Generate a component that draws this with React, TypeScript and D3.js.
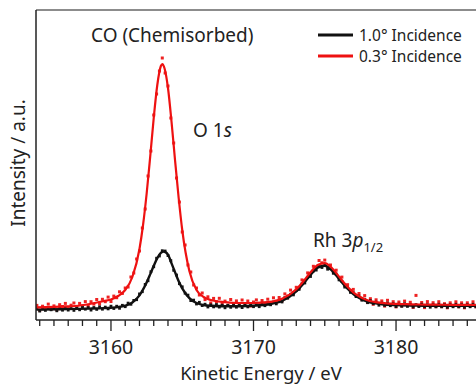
import { useMemo } from 'react'
import * as d3 from 'd3'

// measured spectra: one point every 0.2 eV starting at scanStart
const scanStart = 3154.8
const scanStep = 0.2

const redCounts = [
  14.6, 9.7, 13.8, 11.9, 15.9, 11.0, 14.1, 10.2, 15.3, 13.5,
  16.6, 11.7, 14.8, 17.0, 12.2, 16.6, 14.0, 18.4, 13.8, 18.3,
  15.9, 20.5, 16.1, 20.7, 18.3, 22.9, 18.5, 23.9, 22.3, 28.2,
  26.6, 32, 33, 43, 47, 61, 69, 92, 111, 144,
  169, 205, 226, 249, 262, 247, 234, 202, 177, 142,
  118, 88, 75, 55, 48, 35, 32, 25, 27, 20.4,
  23.2, 17.0, 21.6, 18.2, 21.7, 16.3, 18.9, 14.7, 20.5, 16.3,
  19.1, 15.0, 20.0, 16.0, 19.0, 14.0, 18.0, 20.1, 15.3, 19.5,
  16.6, 20.8, 16.5, 22.2, 18.8, 22.5, 19.2, 26.1, 24.0, 29.9,
  26.8, 32.7, 31.9, 40.1, 39.5, 47.1, 45.7, 53.7, 52.6, 59.5,
  57.2, 59.9, 52.9, 55.0, 48.3, 49.8, 42.4, 42.9, 34.4, 35.3,
  29.4, 30.6, 24.0, 26.5, 20.9, 24.4, 17.8, 21.3, 15.7, 20.2,
  16.6, 19.1, 13.9, 19.7, 15.5, 18.3, 13.1, 18.0, 14.0, 18.9,
  14.8, 17.7, 12.6, 24.6, 14.5, 17.5, 12.4, 18.4, 14.4, 17.3,
  13.3, 18.3, 13.3, 16.3, 12.2, 17.2, 14.2, 18.2, 13.2, 17.2,
  12.2, 17.2, 14.2, 18.2, 13.2
]

const blackCounts = [
  11.4, 8.9, 11.0, 9.6, 12.1, 10.2, 11.7, 9.2, 11.8, 9.8,
  12.4, 9.9, 11.5, 9.6, 12.1, 10.2, 12.7, 10.8, 12.4, 9.9,
  12.5, 10.6, 13.2, 10.8, 12.9, 11.1, 13.8, 11.5, 13.8, 11.7,
  14.7, 13.3, 16.9, 15.7, 19.6, 20.3, 26.1, 28.3, 35.6, 39.2,
  48.3, 53.2, 61.8, 64.0, 69.3, 69.0, 64.4, 59.4, 49.7, 45.0,
  36.3, 33.2, 26.8, 24.9, 19.4, 19.9, 16.0, 17.7, 14.4, 15.8,
  13.0, 15.2, 13.1, 15.5, 12.9, 14.8, 12.2, 14.7, 12.7, 15.3,
  12.8, 14.8, 12.4, 15.0, 13.1, 15.7, 13.3, 15.5, 13.3, 16.0,
  14.3, 17.0, 15.2, 17.9, 16.1, 19.3, 18.0, 22.4, 21.8, 25.7,
  25.1, 29.5, 30.6, 36.2, 37.0, 42.5, 43.5, 49.0, 49.9, 54.3,
  52.5, 55.2, 50.8, 51.4, 46.7, 45.9, 40.1, 38.7, 32.9, 32.3,
  27.6, 27.4, 23.4, 23.9, 19.8, 20.8, 17.3, 19.3, 16.3, 17.8,
  14.8, 16.8, 14.6, 16.9, 14.3, 16.1, 13.4, 15.8, 13.7, 16.2,
  13.6, 15.5, 13.0, 15.4, 13.4, 15.8, 13.3, 15.3, 12.8, 15.2,
  13.2, 15.7, 13.2, 15.2, 12.7, 15.2, 13.2, 15.7, 13.2, 15.2,
  12.7, 15.2, 13.2, 15.7, 13.2
]

// fitted curves
const redFitE = [
  3154.75, 3155.5, 3156.5, 3157.5, 3158.5, 3159.5, 3160, 3160.5, 3161, 3161.5,
  3162, 3162.25, 3162.5, 3162.75, 3163, 3163.25, 3163.5, 3163.61, 3163.75, 3164,
  3164.25, 3164.5, 3164.75, 3165, 3165.5, 3166, 3166.5, 3167, 3168, 3169,
  3170, 3171, 3172, 3173, 3173.5, 3174, 3174.5, 3175, 3175.5, 3176,
  3176.5, 3177, 3178, 3179, 3180, 3181, 3182, 3183, 3184, 3185, 3185.6
]
const redFitI = [
  12.6, 12.9, 13.4, 14.0, 16.0, 19.0, 20.5, 24, 30, 43,
  71, 95, 126, 163, 202, 235, 254, 256, 252, 232,
  198, 159, 122, 90, 49, 30, 23, 20, 17.9, 17,
  17, 17.8, 21.2, 30.7, 38.7, 47.7, 55.1, 56.9, 52, 43.4,
  34.7, 27.6, 19.8, 17.1, 16.1, 15.7, 15.4, 15.3, 15.2, 15.2, 15.2
]

const blackFitE = [
  3154.75, 3156.5, 3158.5, 3159.5, 3160, 3160.5, 3161, 3161.5, 3162, 3162.5,
  3162.75, 3163, 3163.25, 3163.5, 3163.7, 3164, 3164.25, 3164.5, 3164.75, 3165,
  3165.5, 3166, 3166.5, 3167, 3168, 3169, 3170, 3171, 3172, 3173,
  3173.5, 3174, 3174.5, 3175, 3175.5, 3176, 3176.5, 3177, 3178, 3179,
  3180, 3181, 3182, 3183, 3184, 3185, 3185.6
]
const blackFitI = [
  10.4, 10.8, 11.4, 11.9, 12.3, 12.9, 14.3, 17.5, 24.6, 37.4,
  45.6, 54.2, 61.8, 67.1, 68.5, 65.4, 56.6, 47.6, 38.7, 31.7,
  21.9, 17, 15, 14.2, 13.7, 13.8, 14.3, 15.5, 19, 28.5,
  36.3, 45, 52.4, 54.2, 49.4, 41.1, 32.7, 25.9, 18.3, 15.8,
  14.9, 14.5, 14.3, 14.2, 14.2, 14.2, 14.2
]

const majorTicks = [3160, 3170, 3180]
const legendItems = [
  { label: '1.0° Incidence', color: '#111111' },
  { label: '0.3° Incidence', color: '#ee1111' }
]

const W = 476
const H = 385
const font = '"Noto Sans", "Open Sans", sans-serif'

export default function App() {
  const left = 36
  const top = 10
  const bottom = 320

  const x = d3.scaleLinear().domain([3154.74, 3185.61]).range([left, W])
  const y = d3.scaleLinear().domain([0, 310]).range([bottom, top])

  const scanE = (i: number) => scanStart + i * scanStep

  const line = d3.line<[number, number]>()
    .x(d => x(d[0]))
    .y(d => y(d[1]))
    .curve(d3.curveMonotoneX)

  const redFit = line(redFitE.map((e, i) => [e, redFitI[i]])) || ''
  const blackFit = line(blackFitE.map((e, i) => [e, blackFitI[i]])) || ''

  const minorTicks = useMemo(() => d3.range(3155, 3186, 1), [])

  return (
    <svg width={W} height={H} style={{ position: 'absolute', left: 0, top: 0, background: '#fff' }}
      fontFamily={font}>
      <defs>
        <clipPath id="plot">
          <rect x={left} y={top} width={W - left} height={bottom - top} />
        </clipPath>
      </defs>

      <g clipPath="url(#plot)">
        {redCounts.map((v, i) => (
          <rect key={'r' + i} x={x(scanE(i)) - 1.5} y={y(v) - 1.5} width={3} height={3} fill="#ee2222" />
        ))}
        {blackCounts.map((v, i) => (
          <rect key={'b' + i} x={x(scanE(i)) - 1.4} y={y(v) - 1.4} width={2.8} height={2.8} fill="#151515" />
        ))}
        <path d={blackFit} fill="none" stroke="#111" strokeWidth={2.4} />
        <path d={redFit} fill="none" stroke="#ee1111" strokeWidth={2.2} />
      </g>

      {/* frame */}
      <line x1={left} x2={W} y1={top} y2={top} stroke="#666" strokeWidth={1.5} />
      <line x1={left} x2={left} y1={top} y2={bottom} stroke="#222" strokeWidth={1.5} />
      <line x1={left} x2={W} y1={bottom} y2={bottom} stroke="#222" strokeWidth={1.5} />

      {/* x ticks */}
      {minorTicks.map(t => (
        <line key={t} x1={x(t)} x2={x(t)} y1={bottom} y2={majorTicks.includes(t) ? bottom + 11 : bottom + 6}
          stroke="#222" strokeWidth={1.3} />
      ))}
      {majorTicks.map(t => (
        <text key={t} x={x(t)} y={354} textAnchor="middle" fontSize={19.5} fill="#222">{t}</text>
      ))}
      <text x={261} y={379.5} textAnchor="middle" fontSize={18.5} fill="#222">Kinetic Energy / eV</text>
      <text transform="translate(25,163) rotate(-90)" textAnchor="middle" fontSize={19} fill="#222">
        Intensity / a.u.
      </text>

      {/* annotations */}
      <text x={91} y={42} fontSize={19} fill="#222">CO (Chemisorbed)</text>
      <text x={193} y={137} fontSize={19} fill="#222">O 1<tspan fontStyle="italic">s</tspan></text>
      <text x={313} y={247} fontSize={19} fill="#222">
        Rh 3<tspan fontStyle="italic">p</tspan><tspan fontSize={13} dy={5}>1/2</tspan>
      </text>

      {/* legend */}
      {legendItems.map((d, i) => (
        <g key={d.label} transform={`translate(318,${35 + i * 21})`}>
          <line x1={0} x2={35} y1={0} y2={0} stroke={d.color} strokeWidth={3} />
          <text x={41} y={5.5} fontSize={15.5} fill="#222">{d.label}</text>
        </g>
      ))}
    </svg>
  )
}
